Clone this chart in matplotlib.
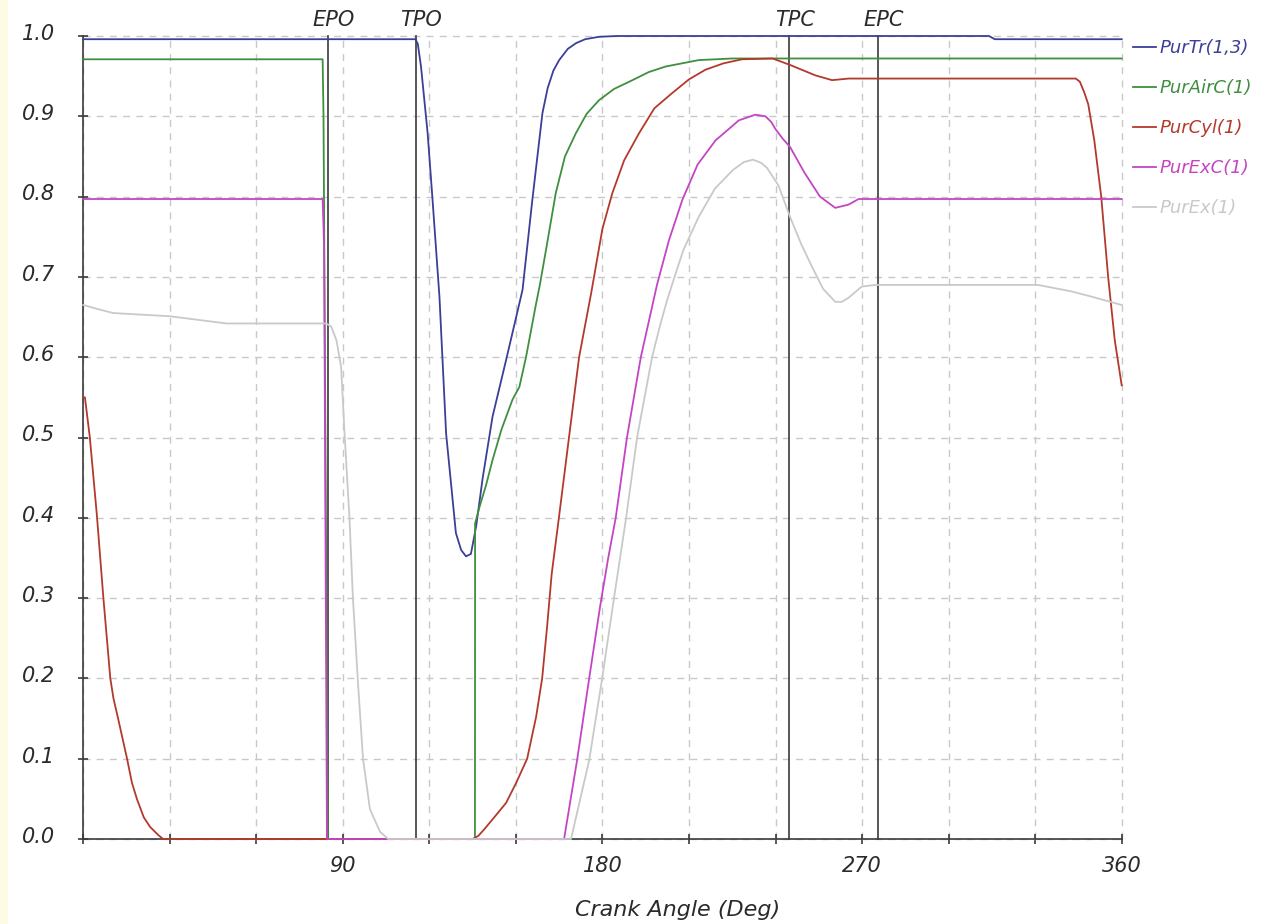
import matplotlib
matplotlib.use("Agg")
import matplotlib.pyplot as plt
from matplotlib.patches import Rectangle
import matplotlib.transforms as mtransforms

# ---------------- data ----------------
series_names = ["PurTr(1,3)", "PurAirC(1)", "PurCyl(1)", "PurExC(1)", "PurEx(1)"]
series_colors = ["#3a3f98", "#3f8f3f", "#b3392c", "#c445c4", "#c9c9c9"]

purtr_x = [0, 115.2, 116.0, 117.1, 119.4, 121.1, 123.5, 125.8, 129.2, 131.0, 132.7, 134.4,
           136.2, 138.5, 141.9, 146.5, 151.2, 152.3, 155.7, 159.2, 161.0, 163.0, 165.0,
           168.0, 170.8, 174.0, 178.8, 185.0, 314.0, 316.0, 360]
purtr_y = [0.996, 0.996, 0.99, 0.962, 0.879, 0.796, 0.675, 0.505, 0.381, 0.36, 0.352, 0.355,
           0.389, 0.45, 0.526, 0.595, 0.667, 0.684, 0.796, 0.904, 0.935, 0.957, 0.97,
           0.984, 0.991, 0.996, 0.999, 1.0, 1.0, 0.996, 0.996]

purairc_x = [0, 83.0, 83.3, 84.8, 135.8, 135.85, 137.5, 139.6, 141.9, 145.0, 148.8, 151.2,
             153.5, 156.9, 158.3, 160.5, 163.8, 167.0, 170.8, 174.5, 178.8, 184.0, 190.4,
             196.0, 201.9, 213.4, 225.0, 360]
purairc_y = [0.971, 0.971, 0.90, 0.0, 0.0, 0.393, 0.415, 0.44, 0.472, 0.51, 0.547, 0.563,
             0.60, 0.665, 0.69, 0.735, 0.804, 0.85, 0.879, 0.903, 0.92, 0.934, 0.945,
             0.955, 0.962, 0.970, 0.972, 0.972]

purcyl_x = [0, 0.6, 2.3, 4.7, 7.0, 8.2, 9.4, 10.5, 12.1, 15.2, 16.9, 18.7, 21.0, 23.2, 26.0,
            27.7, 135.0, 137.0, 139.0, 141.8, 146.6, 150.1, 153.9, 157.0, 159.1, 160.8,
            162.4, 164.9, 168.4, 171.9, 176.1, 180.0, 183.4, 187.5, 192.7, 198.0, 204.2,
            210.0, 215.7, 222.0, 228.4, 239.0, 245.0, 253.8, 259.6, 265.3, 344.1, 345.5,
            347.0, 348.4, 350.5, 352.9, 355.3, 357.6, 360]
purcyl_y = [0.55, 0.55, 0.50, 0.405, 0.30, 0.25, 0.20, 0.175, 0.15, 0.10, 0.07, 0.049,
            0.027, 0.015, 0.005, 0.0, 0.0, 0.004, 0.012, 0.024, 0.045, 0.07, 0.10, 0.152,
            0.20, 0.264, 0.33, 0.40, 0.50, 0.60, 0.68, 0.76, 0.804, 0.845, 0.879, 0.91,
            0.929, 0.946, 0.958, 0.966, 0.971, 0.972, 0.964, 0.951, 0.945, 0.947, 0.947,
            0.943, 0.93, 0.915, 0.87, 0.80, 0.70, 0.621, 0.565]

purexc_x = [0, 83.0, 83.5, 84.5, 166.7, 171.2, 175.4, 179.2, 182.0, 184.6, 188.5, 193.3,
            198.9, 203.0, 207.7, 213.0, 219.2, 227.3, 233.0, 236.5, 238.5, 240.0, 242.5,
            245.0, 250.0, 255.4, 260.7, 265.3, 268.8, 360]
purexc_y = [0.797, 0.797, 0.74, 0.0, 0.0, 0.098, 0.20, 0.29, 0.35, 0.40, 0.50, 0.60,
            0.69, 0.745, 0.796, 0.84, 0.87, 0.895, 0.902, 0.90, 0.893, 0.884, 0.872,
            0.862, 0.83, 0.80, 0.786, 0.79, 0.797, 0.797]

purex_x = [0, 5.0, 10.4, 30.0, 49.7, 84.3, 86.0, 87.8, 89.4, 90.6, 92.3, 93.5, 95.3, 97.0,
           99.4, 102.9, 105.7, 169.1, 175.4, 179.9, 184.0, 188.2, 192.0, 197.2, 200.0,
           202.5, 205.0, 208.0, 213.4, 219.0, 225.2, 229.0, 232.2, 235.0, 237.0, 241.0,
           245.0, 249.0, 252.6, 256.5, 260.7, 263.0, 265.3, 269.9, 274.6, 331.0, 342.5,
           350.0, 359.0, 360]
purex_y = [0.665, 0.66, 0.655, 0.651, 0.642, 0.642, 0.638, 0.621, 0.588, 0.505, 0.40, 0.30,
           0.192, 0.10, 0.037, 0.009, 0.0, 0.0, 0.098, 0.20, 0.30, 0.40, 0.50, 0.60, 0.64,
           0.672, 0.70, 0.733, 0.775, 0.81, 0.833, 0.843, 0.846, 0.842, 0.836, 0.814,
           0.775, 0.74, 0.713, 0.685, 0.669, 0.669, 0.674, 0.688, 0.69, 0.69, 0.682,
           0.675, 0.666, 0.665]

event_names = ["EPO", "TPO", "TPC", "EPC"]
event_angles = [84.85, 115.3, 244.7, 275.6]

x_ticks = list(range(0, 361, 30))
x_tick_labels = ["", "", "", "90", "", "", "180", "", "", "270", "", "", "360"]
y_ticks = [i / 10 for i in range(11)]
y_tick_labels = ["%.1f" % v for v in y_ticks]
x_label = "Crank Angle (Deg)"

# ---------------- figure ----------------
W, H = 1275, 924
fig = plt.figure(figsize=(W / 100, H / 100), dpi=100)
fig.patch.set_facecolor("white")
fig.patches.append(Rectangle((0, 0), 8 / W, 1, transform=fig.transFigure,
                             facecolor="#fdfbe4", edgecolor="none", zorder=0))

x0, x1 = 83.2, 1121.7
y_top, y_bot = 36, 839
ax = fig.add_axes([x0 / W, 1 - y_bot / H, (x1 - x0) / W, (y_bot - y_top) / H])
ax.set_xlim(0, 360)
ax.set_ylim(0, 1.0)

font = dict(family="DejaVu Sans", style="italic")

ax.set_xticks(x_ticks)
ax.set_xticklabels(x_tick_labels, fontsize=15, **font)
ax.set_yticks(y_ticks)
ax.set_yticklabels(y_tick_labels, fontsize=15, **font)
ax.grid(True, color="#c8c8c8", linestyle=(0, (5, 4.5)), linewidth=1.0, zorder=0)
ax.set_axisbelow(True)
for gl in ax.get_xgridlines() + ax.get_ygridlines():
    gl.set_clip_on(False)

for s in ["top", "right"]:
    ax.spines[s].set_visible(False)
for s in ["left", "bottom"]:
    ax.spines[s].set_color("#3a3a3a")
    ax.spines[s].set_linewidth(1.2)
    ax.spines[s].set_zorder(1)

ax.tick_params(axis="both", direction="inout", length=7, width=1.2, color="#3a3a3a",
               labelcolor="#2a2a2a")
ax.tick_params(axis="x", pad=8.5)
ax.tick_params(axis="y", pad=17)
offset = mtransforms.ScaledTranslation(0, 3 / 72, fig.dpi_scale_trans)
for lbl in ax.yaxis.get_majorticklabels():
    lbl.set_transform(lbl.get_transform() + offset)

# event lines
for name, ang in zip(event_names, event_angles):
    ax.plot([ang, ang], [0, 1], color="#3a3a3a", linewidth=1.2, zorder=1.5, clip_on=False)
    ax.annotate(name, xy=(ang, 1.0), xycoords=("data", "axes fraction"),
                xytext=(4, 7), textcoords="offset points", ha="center", va="baseline",
                fontsize=15, color="#2a2a2a", **font)

# curves
xs = [purtr_x, purairc_x, purcyl_x, purexc_x, purex_x]
ys = [purtr_y, purairc_y, purcyl_y, purexc_y, purex_y]
handles = []
for i, (xx, yy, nm, c) in enumerate(zip(xs, ys, series_names, series_colors)):
    ln, = ax.plot(xx, yy, color=c, linewidth=1.3, label=nm, zorder=2 + i * 0.1,
                  clip_on=False)
    handles.append(ln)

leg = ax.legend(handles=handles, loc="upper left",
                bbox_to_anchor=(1133 / W, 1 - 39 / H), bbox_transform=fig.transFigure,
                frameon=False, prop=dict(family="DejaVu Sans", style="italic", size=13),
                handlelength=1.3, handletextpad=0.15, labelspacing=1.22, borderpad=0,
                borderaxespad=0, labelcolor="linecolor")

ax.set_xlabel(x_label, fontsize=16, color="#2a2a2a", **font)
ax.xaxis.set_label_coords((678 - x0) / (x1 - x0), -(900 - y_bot) / (y_bot - y_top))

fig.savefig("out.png", dpi=100, facecolor="white")
